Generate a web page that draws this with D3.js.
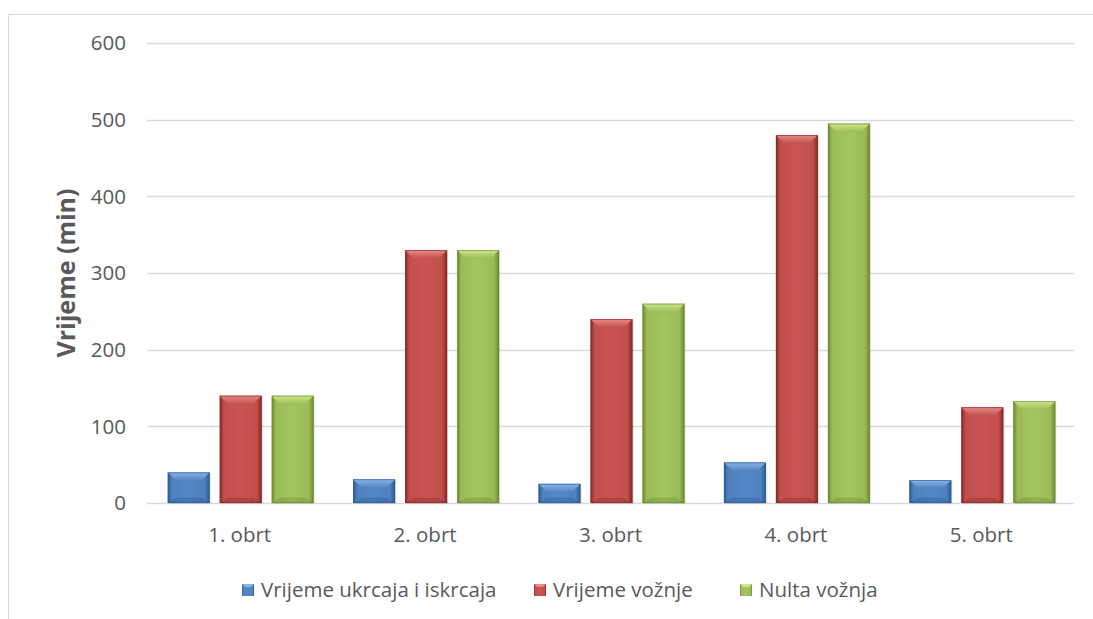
<!DOCTYPE html>
<html>
<head>
<meta charset="utf-8">
<script src="https://cdn.jsdelivr.net/npm/d3@7"></script>
<style>
  body { margin: 0; background: #fff; }
  svg { display: block; font-family: "Open Sans", sans-serif; }
</style>
</head>
<body>
<svg width="1093" height="619"></svg>
<script>
const categories = ["1. obrt", "2. obrt", "3. obrt", "4. obrt", "5. obrt"];
const seriesNames = ["Vrijeme ukrcaja i iskrcaja", "Vrijeme vožnje", "Nulta vožnja"];
const ukrcaj = [40, 31, 25, 53, 30];
const voznja = [140, 330, 240, 480, 125];
const nulta = [140, 330, 260, 495, 133];
const yTicks = [0, 100, 200, 300, 400, 500, 600];

const colors = [
  { base: "#4F81BD", light: "#8ab4e8", dark: "#2c5a8f" },
  { base: "#C0504D", light: "#ea8a86", dark: "#8a2522" },
  { base: "#9BBB59", light: "#cde68a", dark: "#6a8a2e" }
];

const svg = d3.select("svg");
const defs = svg.append("defs");

// chart border (only top and left visible)
svg.append("path")
  .attr("d", "M8.5,619 V14.5 H1093")
  .attr("fill", "none")
  .attr("stroke", "#d9d9d9");

const margin = { left: 147, right: 1074, top: 43, bottom: 503 };
const x = d3.scaleBand().domain(categories).range([margin.left, margin.right]).padding(0);
const y = d3.scaleLinear().domain([0, 600]).range([margin.bottom, margin.top]);

// gridlines
svg.append("g")
  .selectAll("line")
  .data(yTicks)
  .join("line")
  .attr("x1", margin.left)
  .attr("x2", margin.right)
  .attr("y1", d => Math.round(y(d)) + 0.5)
  .attr("y2", d => Math.round(y(d)) + 0.5)
  .attr("stroke", "#d9d9d9")
  .attr("stroke-width", 1.3);

// y tick labels
svg.append("g")
  .selectAll("text")
  .data(yTicks)
  .join("text")
  .attr("x", 126)
  .attr("y", d => y(d))
  .attr("dy", "0.35em")
  .attr("text-anchor", "end")
  .attr("font-size", 20.5)
  .attr("fill", "#595959")
  .text(d => d);

// category labels
svg.append("g")
  .selectAll("text")
  .data(categories)
  .join("text")
  .attr("x", d => x(d) + x.bandwidth() / 2)
  .attr("y", 535)
  .attr("dy", "0.35em")
  .attr("text-anchor", "middle")
  .attr("font-size", 20.5)
  .attr("fill", "#595959")
  .text(d => d);

// axis title
svg.append("text")
  .attr("transform", "translate(66,273) rotate(-90)")
  .attr("text-anchor", "middle")
  .attr("dy", "0.35em")
  .attr("font-size", 25)
  .attr("font-weight", "bold")
  .attr("fill", "#595959")
  .text("Vrijeme (min)");

// gradients per series
colors.forEach((c, i) => {
  const g = defs.append("linearGradient").attr("id", "g" + i).attr("x1", 0).attr("x2", 1).attr("y1", 0).attr("y2", 0);
  g.append("stop").attr("offset", "0%").attr("stop-color", c.dark);
  g.append("stop").attr("offset", "10%").attr("stop-color", c.base);
  g.append("stop").attr("offset", "50%").attr("stop-color", d3.color(c.base).brighter(0.15));
  g.append("stop").attr("offset", "88%").attr("stop-color", c.base);
  g.append("stop").attr("offset", "100%").attr("stop-color", c.dark);
  const t = defs.append("linearGradient").attr("id", "t" + i).attr("x1", 0).attr("x2", 0).attr("y1", 0).attr("y2", 1);
  t.append("stop").attr("offset", "0%").attr("stop-color", c.light);
  t.append("stop").attr("offset", "100%").attr("stop-color", c.base);
});

const series = [ukrcaj, voznja, nulta];
const x1 = d3.scaleBand().domain([0, 1, 2]).range([0, 146]).paddingInner(10 / 52);
const offset = (x.bandwidth() - 146) / 2 + 1;
const bw = x1.bandwidth();
const bev = 9;

series.forEach((vals, si) => {
  const g = svg.append("g");
  vals.forEach((v, ci) => {
    const bx = x(categories[ci]) + offset + x1(si);
    const by = y(v);
    const h = y(0) - by;
    // shadow
    g.append("rect")
      .attr("x", bx + 1).attr("y", by + 1).attr("width", bw).attr("height", h)
      .attr("fill", "#000").attr("opacity", 0.12);
    g.append("rect")
      .attr("x", bx).attr("y", by).attr("width", bw).attr("height", h)
      .attr("fill", `url(#g${si})`);
    const b = Math.min(bev, h / 2);
    // top bevel
    g.append("path")
      .attr("d", `M${bx},${by} H${bx + bw} L${bx + bw - b},${by + b} H${bx + b} Z`)
      .attr("fill", `url(#t${si})`);
    // bottom bevel (darker)
    g.append("path")
      .attr("d", `M${bx},${by + h} H${bx + bw} L${bx + bw - b},${by + h - b * 0.6} H${bx + b} Z`)
      .attr("fill", colors[si].dark).attr("opacity", 0.35);
    g.append("rect")
      .attr("x", bx + 0.5).attr("y", by + 0.5).attr("width", bw - 1).attr("height", h - 1)
      .attr("fill", "none").attr("stroke", colors[si].dark).attr("stroke-width", 1).attr("opacity", 0.6);
  });
});

// legend
const legendX = [242, 534, 740];
const legend = svg.append("g");
seriesNames.forEach((n, i) => {
  const lx = legendX[i];
  legend.append("rect").attr("x", lx).attr("y", 584).attr("width", 12).attr("height", 12).attr("fill", `url(#g${i})`);
  legend.append("path")
    .attr("d", `M${lx},584 H${lx + 12} L${lx + 9},587 H${lx + 3} Z`)
    .attr("fill", colors[i].light);
  legend.append("text")
    .attr("x", lx + 19).attr("y", 590).attr("dy", "0.35em")
    .attr("font-size", 20.5).attr("fill", "#595959")
    .text(n);
});
</script>
</body>
</html>
